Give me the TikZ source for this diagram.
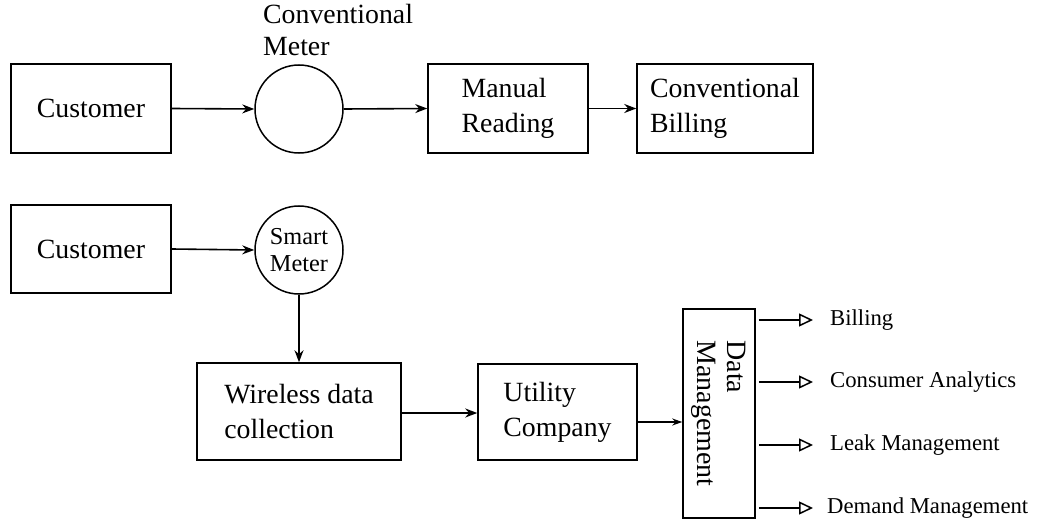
\documentclass[tikz,border=0pt]{standalone}
\usepackage{fontspec}
\setmainfont{Liberation Serif}
\usetikzlibrary{arrows.meta,calc}
\begin{document}
\begin{tikzpicture}[x=1pt,y=-1pt,
  box/.style={draw,line width=1.5pt,inner sep=0pt,align=left,font=\fontsize{27.8}{35}\selectfont},
  circ/.style={draw,circle,line width=1.5pt,inner sep=0pt,align=center},
  arr/.style={line width=1.6pt,-{Stealth[length=12pt,width=9pt]}},
  thickarr/.style={line width=2.6pt,-{Stealth[length=12pt,width=9pt]}},
  oarr/.style={line width=1.5pt,-{Triangle[open,length=14pt,width=13pt,line width=1.5pt]}},
  lbl/.style={anchor=west,inner sep=0pt,font=\fontsize{22.7}{27}\selectfont}]
\useasboundingbox[fill=white] (0,0) rectangle (1037,519);
% top row
\node[box,minimum width=160pt,minimum height=89pt] (cust1) at (91,108.5) {Customer};
\node[circ,minimum size=88pt] (cmeter) at (299,109) {};
\node[anchor=north west,inner sep=0pt,align=left,font=\fontsize{27.8}{32}\selectfont] (cmlbl) at (263,4) {Conventional\\Meter};
\node[box,minimum width=160pt,minimum height=89pt] (manual) at (508,108.5) {Manual\\Reading};
\node[box,minimum width=176pt,minimum height=89pt] (cbill) at (725,108.5) {Conventional\\Billing};
\draw[arr] (cust1.east) -- (cmeter.west);
\draw[arr] (cmeter.east) -- (manual.west);
\draw[arr] (manual.east) -- (cbill.west);
% bottom
\node[box,minimum width=160pt,minimum height=88pt] (cust2) at (91,249) {Customer};
\node[circ,minimum size=88pt,font=\fontsize{24.3}{27}\selectfont] (smeter) at (299,250) {\raisebox{-3pt}{\parbox{60pt}{\centering Smart\\Meter}}};
\node[box,minimum width=204pt,minimum height=97pt] (wireless) at (299,411.5) {Wireless data\\collection};
\node[box,minimum width=159pt,minimum height=96pt] (util) at (557.5,412) {Utility\\Company};
\node[draw,line width=1.5pt,inner sep=0pt,minimum width=72pt,minimum height=209pt] (dm) at (719,413.5) {};
\node[rotate=-90,inner sep=0pt,align=left,font=\fontsize{28}{30}\selectfont] (dmtext) at (dm.center) {Data\\Management};
\draw[arr] (cust2.east) -- (smeter.west);
\draw[arr] (smeter.south) -- (smeter.south |- wireless.north);
\draw[thickarr] ([yshift=-1.5pt]wireless.east) -- ([yshift=-1.5pt]wireless.east -| util.west);
\draw[line width=1.5pt,-{Stealth[length=10pt,width=7pt]}] ([yshift=-10pt]util.east) -- ([yshift=-10pt]util.east -| dm.west);
% outputs
\coordinate (o1) at (813,320);
\coordinate (o2) at (813,382);
\coordinate (o3) at (813,445);
\coordinate (o4) at (813,508);
\draw[oarr] ([xshift=3pt]o1 -| dm.east) -- (o1);
\draw[oarr,line width=2.4pt] ([xshift=3pt]o2 -| dm.east) -- (o2);
\draw[oarr] ([xshift=3pt]o3 -| dm.east) -- (o3);
\draw[oarr] ([xshift=3pt]o4 -| dm.east) -- (o4);
\node[lbl] (l1) at (830,320) {Billing};
\node[lbl] (l2) at (830,382) {Consumer Analytics};
\node[lbl] (l3) at (830,445) {Leak Management};
\node[lbl] (l4) at (827,508) {Demand Management};
\end{tikzpicture}
\end{document}
